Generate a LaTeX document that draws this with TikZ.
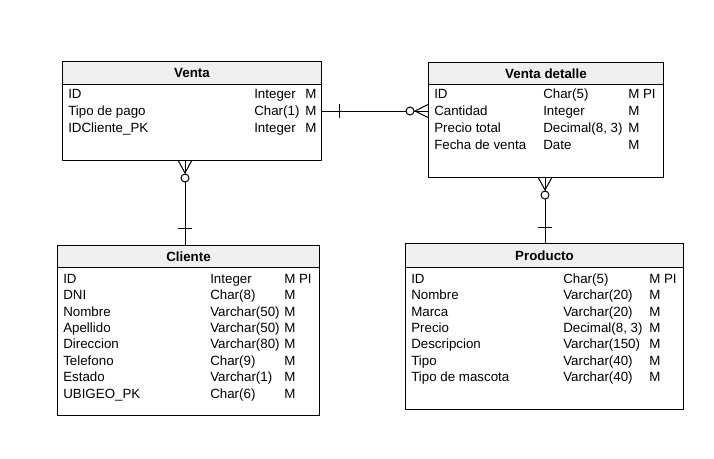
\documentclass[tikz,border=0pt]{standalone}
\usepackage{fontspec}
\setmainfont{Liberation Sans}
\usetikzlibrary{calc}
\definecolor{hdr}{HTML}{EFEFEF}
\tikzset{
  body/.style={draw=black, line width=0.75pt, anchor=north west, inner sep=0pt, fill=white},
  hbox/.style={draw=black, line width=0.75pt, anchor=north west, inner sep=0pt, fill=hdr, font=\fontsize{10}{12}\selectfont\bfseries},
  cell/.style={anchor=base west, inner sep=0pt, font=\fontsize{10}{12}\selectfont},
  rel/.style={draw=black, line width=0.75pt},
}
\begin{document}
\begin{tikzpicture}[x=0.75pt,y=-0.75pt]
\useasboundingbox (0,0) rectangle (714,458);

% ---------- Venta ----------
\node[body, minimum width={259*0.75pt}, minimum height={99*0.75pt}] (venta) at (62,61) {};
\node[hbox, minimum width={259*0.75pt}, minimum height={23*0.75pt}] (ventah) at (62,61) {Venta};
\node[cell] (v1a) at (68,98.5) {ID};
\node[cell] (v1b) at (254,98.5) {Integer};
\node[cell] (v1c) at (305,98.5) {M};
\node[cell] (v2a) at (68,115.5) {Tipo de pago};
\node[cell] (v2b) at (254,115.5) {Char(1)};
\node[cell] (v2c) at (305,115.5) {M};
\node[cell] (v3a) at (68,132.2) {IDCliente\_PK};
\node[cell] (v3b) at (254,132.2) {Integer};
\node[cell] (v3c) at (305,132.2) {M};

% ---------- Venta detalle ----------
\node[body, minimum width={235*0.75pt}, minimum height={115*0.75pt}] (vd) at (428,62) {};
\node[hbox, minimum width={235*0.75pt}, minimum height={22*0.75pt}] (vdh) at (428,62) {Venta detalle};
\node[cell] (d1a) at (434,98.5) {ID};
\node[cell] (d1b) at (543,98.5) {Char(5)};
\node[cell] (d1c) at (628,98.5) {M PI};
\node[cell] (d2a) at (434,115.5) {Cantidad};
\node[cell] (d2b) at (543,115.5) {Integer};
\node[cell] (d2c) at (628,115.5) {M};
\node[cell] (d3a) at (434,132) {Precio total};
\node[cell] (d3b) at (543,132) {Decimal(8, 3)};
\node[cell] (d3c) at (628,132) {M};
\node[cell] (d4a) at (434,149) {Fecha de venta};
\node[cell] (d4b) at (543,149) {Date};
\node[cell] (d4c) at (628,149) {M};

% ---------- Cliente ----------
\node[body, minimum width={262*0.75pt}, minimum height={170*0.75pt}] (cliente) at (57,245) {};
\node[hbox, minimum width={262*0.75pt}, minimum height={22*0.75pt}] (clienteh) at (57,245) {Cliente};
\foreach \n/\t/\m [count=\i from 0] in {ID/Integer/M PI, DNI/Char(8)/M, Nombre/Varchar(50)/M, Apellido/Varchar(50)/M, Direccion/Varchar(80)/M, Telefono/Char(9)/M, Estado/Varchar(1)/M, UBIGEO\_PK/Char(6)/M}{
  \node[cell] (c\i a) at (63,{283.3+16.4*\i}) {\n};
  \node[cell] (c\i b) at (210,{283.3+16.4*\i}) {\t};
  \node[cell] (c\i c) at (284,{283.3+16.4*\i}) {\m};
}

% ---------- Producto ----------
\node[body, minimum width={278*0.75pt}, minimum height={166*0.75pt}] (producto) at (405,243) {};
\node[hbox, minimum width={278*0.75pt}, minimum height={24*0.75pt}] (productoh) at (405,243) {Producto};
\foreach \n/\t/\m [count=\i from 0] in {ID/Char(5)/M PI, Nombre/Varchar(20)/M, Marca/Varchar(20)/M, Precio/{Decimal(8, 3)}/M, Descripcion/Varchar(150)/M, Tipo/Varchar(40)/M, Tipo de mascota/Varchar(40)/M}{
  \node[cell] (p\i a) at (411,{283.3+16.4*\i}) {\n};
  \node[cell] (p\i b) at (563,{283.3+16.4*\i}) {\t};
  \node[cell] (p\i c) at (649,{283.3+16.4*\i}) {\m};
}

% ---------- Venta -> Venta detalle ----------
\coordinate (a1) at (venta.east);
\coordinate (a2) at (venta.east -| vd.west);
\draw[rel] (a1) -- (a2);
\draw[rel] ($(a1)+(17,-7)$) -- ($(a1)+(17,7)$);
\draw[rel] ($(a2)+(-13,0)$) -- ($(a2)+(0,-6.5)$);
\draw[rel] ($(a2)+(-13,0)$) -- ($(a2)+(0,6.5)$);
\draw[rel, fill=white] ($(a2)+(-18,0)$) circle[radius=3pt];

% ---------- Venta -> Cliente ----------
\coordinate (b1) at ($(venta.south west)+(123,0)$);
\coordinate (b2) at (b1 |- cliente.north);
\draw[rel] (b1) -- (b2);
\draw[rel] ($(b2)+(-7,-17)$) -- ($(b2)+(7,-17)$);
\draw[rel] ($(b1)+(0,12)$) -- ($(b1)+(-6.5,0)$);
\draw[rel] ($(b1)+(0,12)$) -- ($(b1)+(6.5,0)$);
\draw[rel, fill=white] ($(b1)+(0,17)$) circle[radius=3pt];

% ---------- Venta detalle -> Producto ----------
\coordinate (e1) at ($(vd.south west)+(117,0)$);
\coordinate (e2) at (e1 |- producto.north);
\draw[rel] (e1) -- (e2);
\draw[rel] ($(e2)+(-7,-16)$) -- ($(e2)+(7,-16)$);
\draw[rel] ($(e1)+(0,12)$) -- ($(e1)+(-6.5,0)$);
\draw[rel] ($(e1)+(0,12)$) -- ($(e1)+(6.5,0)$);
\draw[rel, fill=white] ($(e1)+(0,17)$) circle[radius=3pt];
\end{tikzpicture}
\end{document}
